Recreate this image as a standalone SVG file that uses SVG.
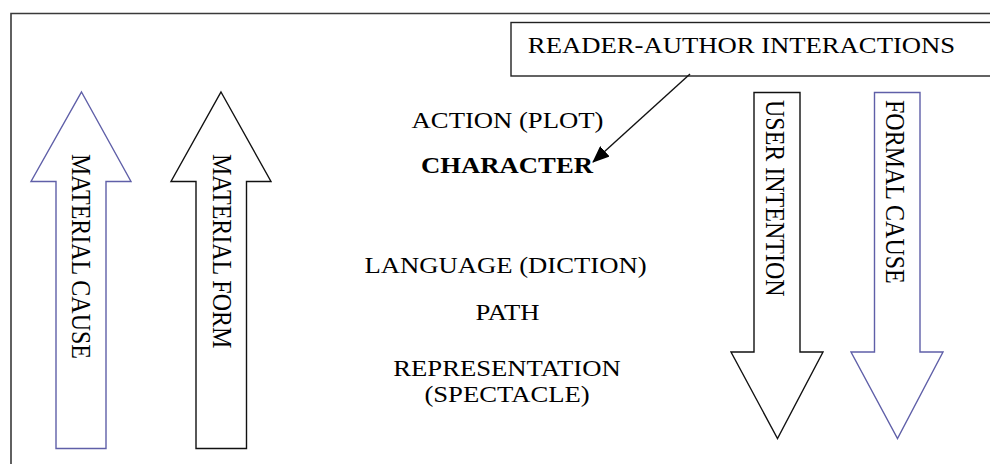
<svg xmlns="http://www.w3.org/2000/svg" width="990" height="464" viewBox="0 0 990 464">
<defs>
<style>
.frame{fill:none;stroke:#3a3a3a;stroke-width:1.6}
.arrB{fill:#fff;stroke:#5f5fa8;stroke-width:1.4;stroke-linejoin:miter}
.arrK{fill:#fff;stroke:#111;stroke-width:1.4;stroke-linejoin:miter}
.t{font-family:"Liberation Serif","Times New Roman",serif;font-size:23px;fill:#000}
.tv{font-family:"Liberation Serif","Times New Roman",serif;font-size:24px;fill:#000}
.b{font-weight:bold}
.conn{stroke:#111;stroke-width:1.4;fill:none}
</style>
<marker id="ah" viewBox="0 0 17 14" refX="16" refY="7" markerWidth="17" markerHeight="14" markerUnits="userSpaceOnUse" orient="auto">
<path d="M0,0 L17,7 L0,14 Z" fill="#000"/>
</marker>
</defs>
<rect width="990" height="464" fill="#fff"/>
<path class="frame" d="M11,470 L11,13.5 L995,13.5"/>

<g id="material-cause">
<path class="arrB" d="M81.5,92 L131,181.5 L106,181.5 L106,448.5 L56,448.5 L56,181.5 L31,181.5 Z"/>
<text class="tv" transform="translate(72,154) scale(1.13,1) rotate(90)">MATERIAL CAUSE</text>
</g>

<g id="material-form">
<path class="arrK" d="M221,92 L271,181.5 L246.5,181.5 L246.5,448.5 L196,448.5 L196,181.5 L171,181.5 Z"/>
<text class="tv" transform="translate(212.5,154) scale(1.13,1) rotate(90)">MATERIAL FORM</text>
</g>

<g id="user-intention">
<path class="arrK" d="M754,92.5 L800,92.5 L800,352 L823,352 L777.5,438.5 L731,352 L754,352 Z"/>
<text class="tv" transform="translate(765.5,100) scale(1.13,1) rotate(90)">USER INTENTION</text>
</g>

<g id="formal-cause">
<path class="arrB" d="M874.5,92.5 L920,92.5 L920,352 L943,352 L897.5,438.5 L851,352 L874.5,352 Z"/>
<text class="tv" transform="translate(886,100) scale(1.13,1) rotate(90)">FORMAL CAUSE</text>
</g>

<g id="reader-author">
<rect x="511" y="22.5" width="490" height="53.5" fill="#fff" stroke="#222" stroke-width="1.4"/>
<text class="t" transform="translate(741.5,53) scale(1.16,1)" text-anchor="middle">READER-AUTHOR INTERACTIONS</text>
</g>

<g id="action">
<text class="t" transform="translate(507.5,128) scale(1.16,1)" text-anchor="middle">ACTION (PLOT)</text>
</g>
<g id="character">
<text class="t b" transform="translate(507,173) scale(1.16,1)" text-anchor="middle">CHARACTER</text>
</g>
<g id="language">
<text class="t" transform="translate(505.5,273) scale(1.16,1)" text-anchor="middle">LANGUAGE (DICTION)</text>
</g>
<g id="path">
<text class="t" transform="translate(507.5,320) scale(1.16,1)" text-anchor="middle">PATH</text>
</g>
<g id="representation">
<text class="t" transform="translate(507,376) scale(1.16,1)" text-anchor="middle">REPRESENTATION</text>
<text class="t" transform="translate(507,402) scale(1.16,1)" text-anchor="middle">(SPECTACLE)</text>
</g>

<g id="connectors">
<line class="conn" x1="690" y1="74" x2="593" y2="162" marker-end="url(#ah)"/>
</g>
</svg>
